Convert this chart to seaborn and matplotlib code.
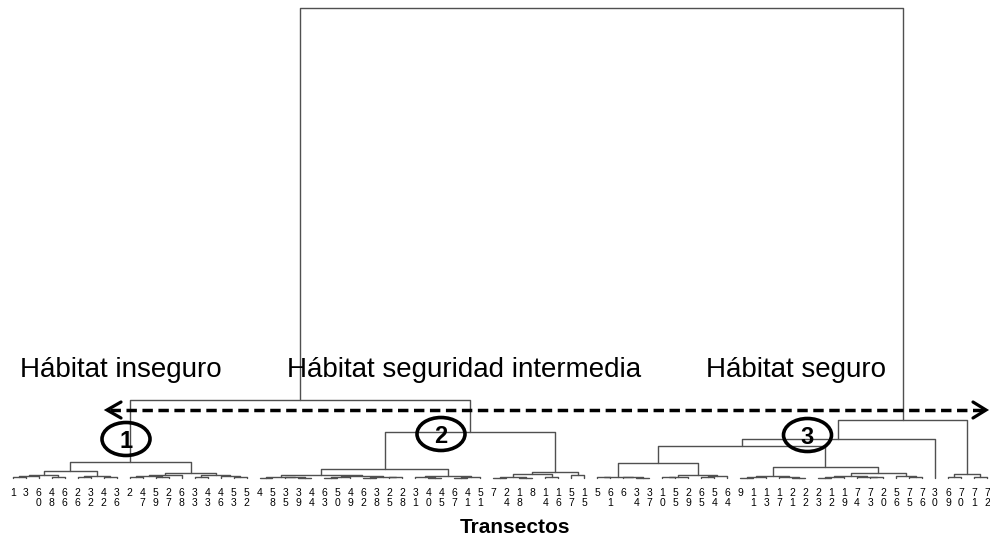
import matplotlib
matplotlib.use("Agg")
import matplotlib.pyplot as plt
from matplotlib.patches import Ellipse
import pandas as pd
import seaborn as sns

# ---------------- data ----------------
# transect labels in dendrogram leaf order (left -> right)
LEAF_LABELS = [1, 3, 60, 48, 66, 26, 32, 42, 36, 2, 47, 59, 27, 68, 33, 43, 46, 53, 52,
               4, 58, 35, 39, 44, 63, 50, 49, 62, 38, 25, 28, 31, 40, 45, 67, 41, 51,
               7, 24, 18, 8, 14, 16, 57, 15,
               5, 61, 6, 34, 37, 10, 55, 29, 65, 54, 64, 9, 11, 13, 17, 21, 22, 23, 12, 19,
               74, 73, 20, 56, 75, 76, 30, 69, 70, 71, 72]

# merges as [height, left, right]; ints are leaf positions (1-based)
CLUSTER_1 = [1.6,
             [0.7, [0.3, [0.2, [0.1, 1, 2], 3], [0.15, 4, 5]],
                   [0.2, [0.1, 6, 7], [0.15, 8, 9]]],
             [0.5, [0.3, [0.2, [0.1, 10, 11], [0.12, 12, 13]], 14],
                   [0.35, [0.1, 15, 16], [0.2, 17, [0.1, 18, 19]]]]]

CLUSTER_2 = [4.6,
             [0.9, [0.3, [0.15, [0.05, 20, 21], [0.1, 22, [0.04, 23, 24]]],
                         [0.2, [0.08, [0.03, 25, 26], 27], [0.12, [0.05, 28, 29], [0.06, 30, 31]]]],
                   [0.25, [0.06, 32, [0.03, 33, 34]], [0.1, [0.05, 35, 36], 37]]],
             [0.6, [0.4, [0.1, [0.05, 38, 39], [0.05, 40, 41]], [0.15, 42, 43]],
                   [0.3, 44, 45]]]

CLUSTER_3 = [5.8,
             [3.9, [3.2,
                    [1.5, [0.15, [0.08, 46, 47], [0.1, 48, [0.05, 49, 50]]],
                          [0.3, [0.15, [0.06, 51, 52], 53], [0.2, [0.08, 54, 55], 56]]],
                    [1.1, [0.2, [0.1, [0.05, 57, 58], 59], [0.12, 60, [0.05, 61, 62]]],
                          [0.5, [0.25, [0.1, [0.05, 63, 64], 65], [0.12, 66, [0.06, 67, 68]]],
                                [0.2, 69, [0.1, 70, 71]]]]],
              72],
             [0.4, [0.15, 73, 74], [0.1, 75, 76]]]

ROOT_HEIGHT = 47.0
LEFT_HEIGHT = 7.8

REGION_TEXTS = ["Hábitat inseguro", "Hábitat seguridad intermedia", "Hábitat seguro"]
GROUP_NUMBERS = ["1", "2", "3"]
XLABEL = "Transectos"

TREE = [ROOT_HEIGHT, [LEFT_HEIGHT, CLUSTER_1, CLUSTER_2], CLUSTER_3]

# ---------------- build segments ----------------
rows = []
seg_id = [0]


def layout(node):
    if isinstance(node, int):
        return float(node), 0.0
    h, left, right = node
    xl, hl = layout(left)
    xr, hr = layout(right)
    sid = seg_id[0]
    seg_id[0] += 1
    for k, (x, y) in enumerate([(xl, hl), (xl, h), (xr, h), (xr, hr)]):
        rows.append({"seg": sid, "order": k, "x": x, "y": y})
    return (xl + xr) / 2.0, h


layout(TREE)
segs = pd.DataFrame(rows)

# ---------------- figure ----------------
sns.set_theme(style="white")
plt.rcParams["font.family"] = ["Liberation Sans", "DejaVu Sans"]

fig = plt.figure(figsize=(9.9, 5.4), dpi=100)
ax = fig.add_axes([0, 62 / 540, 1, 478 / 540])

sns.lineplot(data=segs, x="x", y="y", units="seg", estimator=None, sort=False,
             color="#505050", linewidth=1.0, ax=ax, clip_on=False, legend=False)

n = len(LEAF_LABELS)
px = 12.99  # pixels per leaf unit
ax.set_xlim(1 - 12.7 / px, 1 + (990 - 12.7) / px)
ax.set_ylim(0, 47.8)


def X(p):
    return 1 + (p - 12.7) / px


def Y(p):
    return (478 - p) / 10.0


ax.set_xticks(range(1, n + 1))
ax.set_xticklabels(["\n".join(str(v)) for v in LEAF_LABELS], fontsize=7.5,
                   linespacing=1.05, color="black")
ax.tick_params(axis="x", length=0, pad=7)
ax.set_yticks([])
ax.set_xlabel(XLABEL, fontsize=15, fontweight="bold", color="black")
ax.xaxis.set_label_coords(515 / 990, -40 / 478)
ax.set_ylabel("")
sns.despine(ax=ax, left=True, bottom=True, top=True, right=True)

# region texts
for txt, p in zip(REGION_TEXTS, [20, 287, 706]):
    ax.text(X(p), Y(377), txt, fontsize=20, ha="left", va="baseline", color="black")

# dashed double arrow
ya = Y(410)
ax.plot([X(110), X(983)], [ya, ya], color="black", lw=2.5,
        linestyle=(0, (3, 1.6)), clip_on=False, zorder=3)
ax.plot([X(121), X(107), X(121)], [Y(402), ya, Y(418)], color="black", lw=2.3,
        solid_joinstyle="miter", clip_on=False, zorder=3)
ax.plot([X(973), X(986), X(973)], [Y(402), ya, Y(418)], color="black", lw=2.3,
        solid_joinstyle="miter", clip_on=False, zorder=3)

# circled group numbers
for num, (cx, cy) in zip(GROUP_NUMBERS, [(126, 439), (441, 434), (807.5, 435)]):
    ax.add_patch(Ellipse((X(cx), Y(cy)), 48 / px, 3.3, fill=False,
                         edgecolor="black", lw=2.6, zorder=4, clip_on=False))
    ax.text(X(cx), Y(cy), num, fontsize=17, fontweight="bold", ha="center",
            va="center_baseline", color="black", zorder=5)

fig.savefig("out.png", dpi=100, facecolor="white")
